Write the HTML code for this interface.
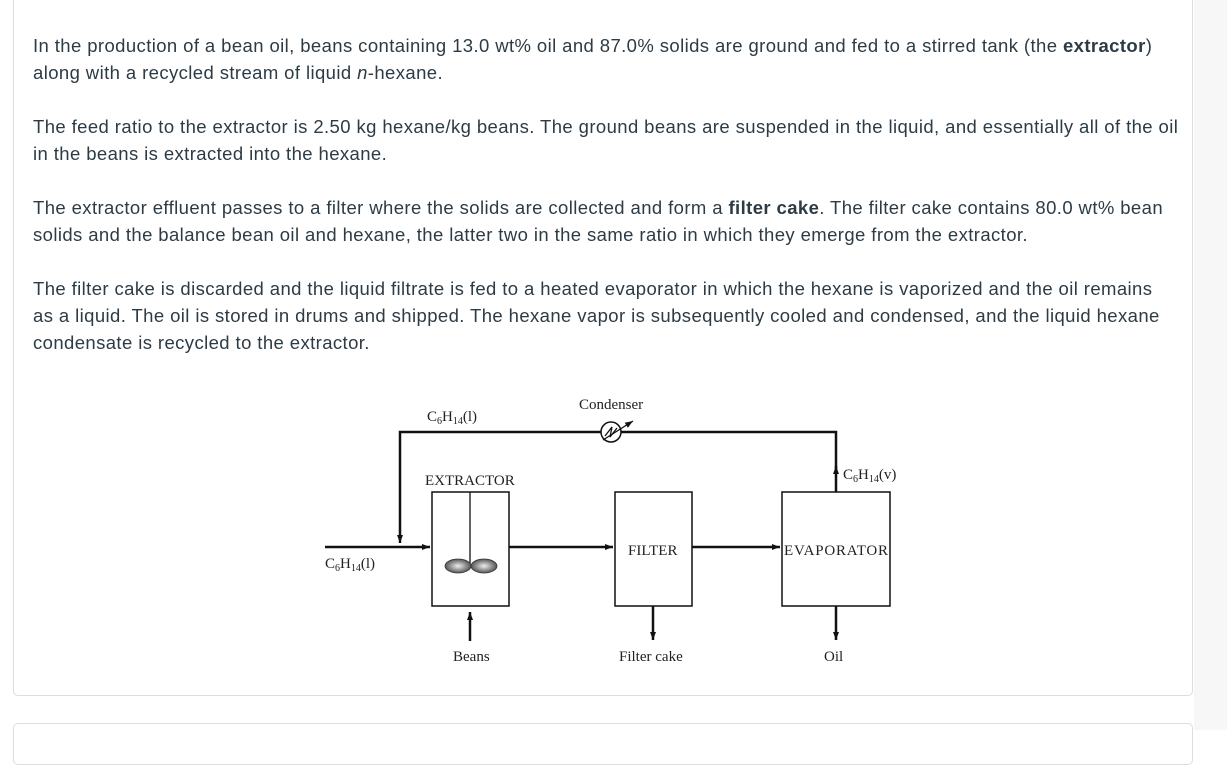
<!DOCTYPE html>
<html><head><meta charset="utf-8"><style>
body{margin:0;width:1227px;height:730px;background:#fff;position:relative;overflow:hidden;font-family:"Liberation Sans",sans-serif;color:#2d3b45}
.side{position:absolute;left:1194px;top:0;width:33px;height:730px;background:#f7f7f7}
.card{position:absolute;left:13px;top:-10px;width:1178px;height:704px;border:1px solid #ddd;border-radius:5px;background:#fff}
.card2{position:absolute;left:13px;top:723px;width:1178px;height:40px;border:1px solid #ddd;border-radius:5px;background:#fff}
p{position:absolute;left:33px;margin:0;font-size:18.5px;line-height:27px;white-space:nowrap;letter-spacing:0.4px}
svg{position:absolute;left:0;top:0}
svg text{font-family:"Liberation Serif",serif;font-size:15px;fill:#222}
</style></head><body>
<div class="side"></div>
<div class="card"></div>
<div class="card2"></div>
<p style="top:32px">In the production of a bean oil, beans containing 13.0 wt% oil and 87.0% solids are ground and fed to a stirred tank (the <b>extractor</b>)<br>along with a recycled stream of liquid <i>n</i>-hexane.</p>
<p style="top:113px">The feed ratio to the extractor is 2.50 kg hexane/kg beans. The ground beans are suspended in the liquid, and essentially all of the oil<br>in the beans is extracted into the hexane.</p>
<p style="top:194px">The extractor effluent passes to a filter where the solids are collected and form a <b>filter cake</b>. The filter cake contains 80.0 wt% bean<br>solids and the balance bean oil and hexane, the latter two in the same ratio in which they emerge from the extractor.</p>
<p style="top:275px">The filter cake is discarded and the liquid filtrate is fed to a heated evaporator in which the hexane is vaporized and the oil remains<br>as a liquid. The oil is stored in drums and shipped. The hexane vapor is subsequently cooled and condensed, and the liquid hexane<br>condensate is recycled to the extractor.</p>
<svg width="1227" height="730">
<defs><marker id="a" markerWidth="8" markerHeight="6" refX="8" refY="3" orient="auto" markerUnits="userSpaceOnUse"><path d="M0,0L8,3L0,6z" fill="#111"/></marker>
<radialGradient id="g"><stop offset="0" stop-color="#eee"/><stop offset="1" stop-color="#555"/></radialGradient></defs>
<g stroke="#111" fill="none" stroke-width="2.5">
<polyline points="836,492 836,432 400,432 400,543" marker-end="url(#a)"/>
<line x1="836" y1="470" x2="836" y2="466" marker-end="url(#a)"/>
<line x1="325" y1="547" x2="430" y2="547" marker-end="url(#a)"/>
<line x1="509" y1="547" x2="613" y2="547" marker-end="url(#a)"/>
<line x1="692" y1="547" x2="780" y2="547" marker-end="url(#a)"/>
<line x1="470" y1="641" x2="470" y2="612" marker-end="url(#a)"/>
<line x1="653" y1="606" x2="653" y2="640" marker-end="url(#a)"/>
<line x1="836" y1="606" x2="836" y2="640" marker-end="url(#a)"/>
</g>
<g stroke="#111" fill="#fff" stroke-width="1.5">
<rect x="432" y="492" width="77" height="114"/>
<rect x="615" y="492" width="77" height="114"/>
<rect x="782" y="492" width="108" height="114"/>
<circle cx="611" cy="432" r="10"/>
</g>
<g stroke="#111" stroke-width="1.3" fill="none">
<line x1="470" y1="492" x2="470" y2="566"/>
<path d="M603,440 L633,421" marker-end="url(#a)"/>
<path d="M605,436 L612,427 L610,437 L617,428"/>
</g>
<ellipse cx="458" cy="566" rx="13" ry="7" fill="url(#g)" stroke="#333" stroke-width="0.8"/>
<ellipse cx="484" cy="566" rx="13" ry="7" fill="url(#g)" stroke="#333" stroke-width="0.8"/>
<text x="427" y="421">C<tspan font-size="10" dy="3">6</tspan><tspan dy="-3">H</tspan><tspan font-size="10" dy="3">14</tspan><tspan dy="-3">(l)</tspan></text>
<text x="579" y="409">Condenser</text>
<text x="425" y="485">EXTRACTOR</text>
<text x="843" y="479">C<tspan font-size="10" dy="3">6</tspan><tspan dy="-3">H</tspan><tspan font-size="10" dy="3">14</tspan><tspan dy="-3">(v)</tspan></text>
<text x="325" y="568">C<tspan font-size="10" dy="3">6</tspan><tspan dy="-3">H</tspan><tspan font-size="10" dy="3">14</tspan><tspan dy="-3">(l)</tspan></text>
<text x="628" y="555">FILTER</text>
<text x="784" y="555" textLength="104">EVAPORATOR</text>
<text x="453" y="661">Beans</text>
<text x="619" y="661">Filter cake</text>
<text x="824" y="661">Oil</text>
</svg>
</body></html>
